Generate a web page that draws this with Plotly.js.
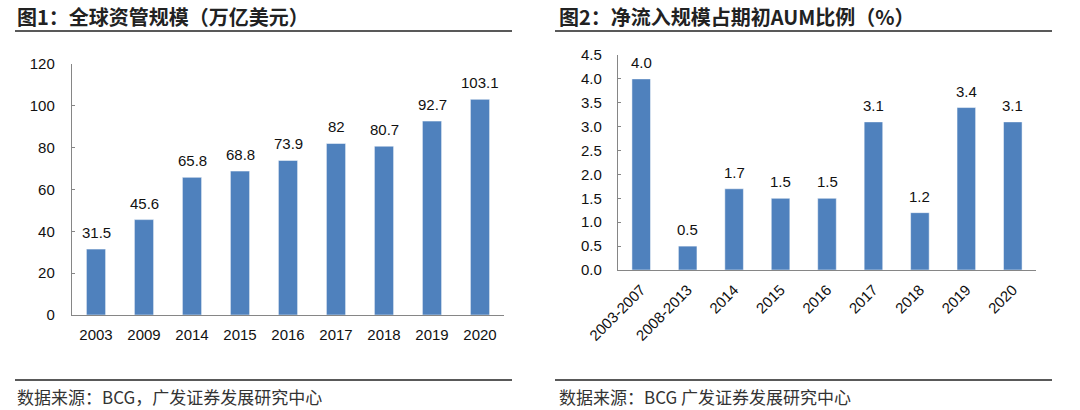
<!DOCTYPE html>
<html>
<head>
<meta charset="utf-8">
<script src="https://cdn.plot.ly/plotly-3.0.1.min.js"></script>
<style>
html,body{margin:0;padding:0;background:#fff;}
#chart{width:1080px;height:410px;}
</style>
</head>
<body>
<div id="chart"></div>
<script>
// Chart 1 data: global AUM (trillion USD)
const years1 = ['2003','2009','2014','2015','2016','2017','2018','2019','2020'];
const aum = [31.5, 45.6, 65.8, 68.8, 73.9, 82, 80.7, 92.7, 103.1];
const aumLabels = ['31.5','45.6','65.8','68.8','73.9','82','80.7','92.7','103.1'];

// Chart 2 data: net inflow as % of beginning AUM
const periods2 = ['2003-2007','2008-2013','2014','2015','2016','2017','2018','2019','2020'];
const inflowPct = [4.0, 0.5, 1.7, 1.5, 1.5, 3.1, 1.2, 3.4, 3.1];
const inflowLabels = ['4.0','0.5','1.7','1.5','1.5','3.1','1.2','3.4','3.1'];

const title1 = '图1：全球资管规模（万亿美元）';
const title2 = '图2：净流入规模占期初AUM比例（%）';
const source1 = '数据来源：BCG，广发证券发展研究中心';
const source2 = '数据来源：BCG 广发证券发展研究中心';

const FONT = 'Liberation Sans, Arial, Noto Sans CJK SC, sans-serif';
const CJK = 'Noto Sans CJK SC, Liberation Sans, sans-serif';
const BAR = '#4F81BD';
const AXIS = '#868686';

const traces = [
  {
    type: 'bar', x: years1, y: aum, xaxis: 'x', yaxis: 'y',
    marker: {color: BAR, line: {color: '#ffffff', width: 0.5}},
    hoverinfo: 'none'
  },
  {
    type: 'bar', x: periods2, y: inflowPct, xaxis: 'x2', yaxis: 'y2',
    marker: {color: BAR, line: {color: '#ffffff', width: 0.5}},
    hoverinfo: 'none'
  }
];

const axisCommon = {
  showgrid: false, zeroline: false, showline: true,
  linecolor: AXIS, linewidth: 1.2,
  tickfont: {family: FONT, size: 15, color: '#111'},
  fixedrange: true
};

const valueAnnots = [];
years1.forEach((c, i) => valueAnnots.push({
  xref: 'x', yref: 'y', x: i, y: aum[i], text: aumLabels[i], showarrow: false,
  yanchor: 'bottom', yshift: 6, font: {family: FONT, size: 15, color: '#111'}
}));
periods2.forEach((c, i) => valueAnnots.push({
  xref: 'x2', yref: 'y2', x: i, y: inflowPct[i], text: inflowLabels[i], showarrow: false,
  yanchor: 'bottom', yshift: 6, font: {family: FONT, size: 15, color: '#111'}
}));

const layout = {
  width: 1080, height: 410,
  margin: {l: 0, r: 0, t: 0, b: 0},
  paper_bgcolor: '#fff', plot_bgcolor: '#fff',
  showlegend: false, bargap: 0.6,
  font: {family: FONT, color: '#111'},
  xaxis: Object.assign({}, axisCommon, {
    domain: [72/1080, 504/1080], anchor: 'y', type: 'category',
    categoryorder: 'array', categoryarray: years1,
    range: [-0.5, years1.length - 0.5],
    ticks: '', ticklabelstandoff: 6
  }),
  yaxis: Object.assign({}, axisCommon, {
    domain: [95/410, 346/410], anchor: 'x', range: [0, 120], dtick: 20,
    ticks: 'inside', ticklen: 3, tickcolor: AXIS, ticklabelstandoff: 13
  }),
  xaxis2: Object.assign({}, axisCommon, {
    domain: [618/1080, 1036/1080], anchor: 'y2', type: 'category',
    categoryorder: 'array', categoryarray: periods2,
    range: [-0.5, periods2.length - 0.5],
    ticks: '', tickangle: -45, ticklabelstandoff: 4
  }),
  yaxis2: Object.assign({}, axisCommon, {
    domain: [140/410, 355/410], anchor: 'x2', range: [0, 4.5], dtick: 0.5,
    tickformat: '.1f',
    ticks: 'inside', ticklen: 3, tickcolor: AXIS, ticklabelstandoff: 12
  }),
  shapes: [
    {type: 'line', xref: 'paper', yref: 'paper', x0: 15/1080, x1: 512/1080, y0: 1 - 31/410, y1: 1 - 31/410, line: {color: '#222', width: 1.5}},
    {type: 'line', xref: 'paper', yref: 'paper', x0: 555/1080, x1: 1052/1080, y0: 1 - 31/410, y1: 1 - 31/410, line: {color: '#222', width: 1.5}},
    {type: 'line', xref: 'paper', yref: 'paper', x0: 15/1080, x1: 512/1080, y0: 1 - 380/410, y1: 1 - 380/410, line: {color: '#222', width: 1.5}},
    {type: 'line', xref: 'paper', yref: 'paper', x0: 555/1080, x1: 1052/1080, y0: 1 - 380/410, y1: 1 - 380/410, line: {color: '#222', width: 1.5}}
  ],
  annotations: valueAnnots.concat([
    {xref: 'paper', yref: 'paper', x: 15/1080, y: 1 - 16/410, xanchor: 'left', yanchor: 'middle', showarrow: false,
     text: '<b>' + title1 + '</b>', font: {family: CJK, size: 20, color: '#222'}},
    {xref: 'paper', yref: 'paper', x: 557/1080, y: 1 - 16/410, xanchor: 'left', yanchor: 'middle', showarrow: false,
     text: '<b>' + title2 + '</b>', font: {family: CJK, size: 20, color: '#222'}},
    {xref: 'paper', yref: 'paper', x: 15/1080, y: 1 - 396/410, xanchor: 'left', yanchor: 'middle', showarrow: false,
     text: source1, font: {family: CJK, size: 17, color: '#333'}},
    {xref: 'paper', yref: 'paper', x: 557/1080, y: 1 - 396/410, xanchor: 'left', yanchor: 'middle', showarrow: false,
     text: source2, font: {family: CJK, size: 17, color: '#333'}}
  ])
};

Plotly.newPlot('chart', traces, layout, {staticPlot: true, displayModeBar: false});
</script>
</body>
</html>
